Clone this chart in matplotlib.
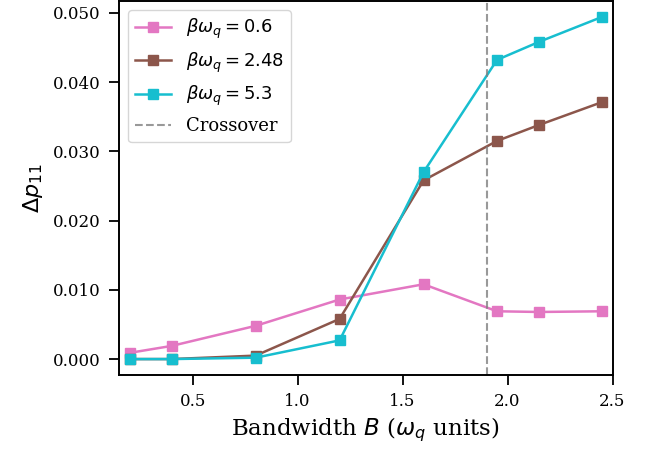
import numpy as np
import matplotlib.pyplot as plt

plt.rcParams['font.family'] = 'DejaVu Serif'
plt.rcParams['mathtext.fontset'] = 'dejavusans'

B = [0.2, 0.4, 0.8, 1.2, 1.6, 1.95, 2.15, 2.45]
dp_06 = [0.0009, 0.0019, 0.0048, 0.0086, 0.0108, 0.0069, 0.0068, 0.0069]
dp_248 = [0.0, 0.0, 0.0005, 0.0058, 0.0258, 0.0315, 0.0338, 0.0371]
dp_53 = [0.0, 0.0, 0.0002, 0.0027, 0.0270, 0.0432, 0.0458, 0.0494]
labels = [r'$\beta\omega_q = 0.6$', r'$\beta\omega_q = 2.48$', r'$\beta\omega_q = 5.3$']
colors = ['#e377c2', '#8c564b', '#17becf']
crossover = 1.9

fig = plt.figure(figsize=(6.59, 4.51), dpi=100)
ax = fig.add_axes([119/659, 1-375/451, (612.5-119)/659, 374/451])

for y, lab, c in zip([dp_06, dp_248, dp_53], labels, colors):
    ax.plot(B, y, marker='s', ms=6.5, lw=1.8, color=c, label=lab)
ax.axvline(crossover, color='gray', ls='--', lw=1.5, alpha=0.8, label='Crossover')

ax.set_xlim(0.149, 2.5)
ax.set_ylim(-0.0023, 0.0517)
ax.set_yticks(np.arange(0, 0.051, 0.01))
ax.yaxis.set_major_formatter(plt.FormatStrFormatter('%.3f'))
ax.set_xlabel(r'Bandwidth $B$ ($\omega_q$ units)', fontsize=16.5, labelpad=4)
ax.set_ylabel(r'$\Delta p_{11}$', fontsize=16, labelpad=6)
ax.tick_params(labelsize=12, width=1.3, length=7, pad=6)
for s in ax.spines.values():
    s.set_linewidth(1.4)
ax.legend(loc='upper left', fontsize=13, borderaxespad=0.5)

fig.savefig('out.png', dpi=100)
